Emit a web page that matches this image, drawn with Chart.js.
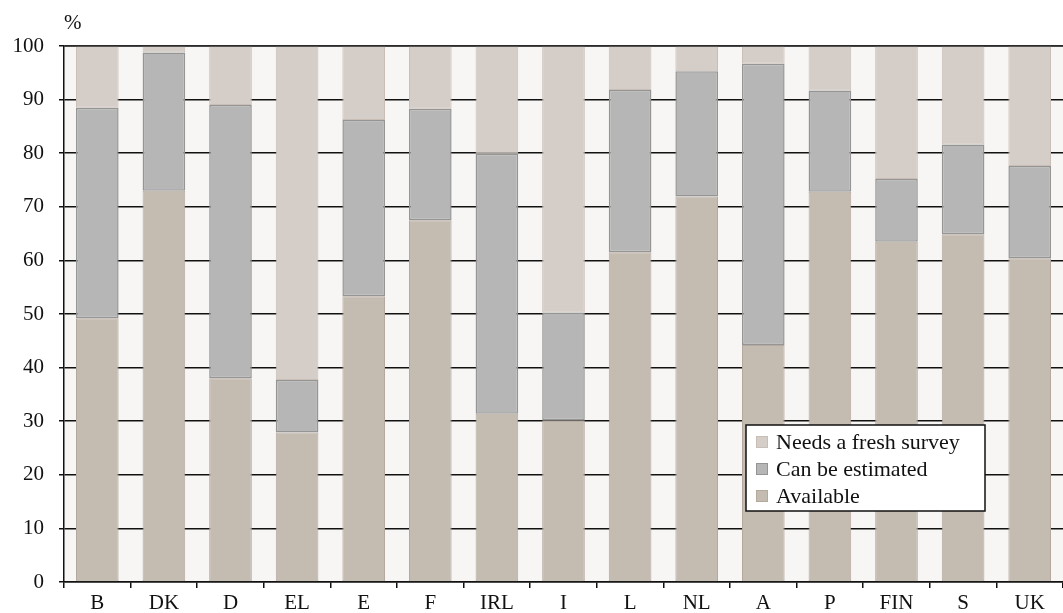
<!DOCTYPE html>
<html>
<head>
<meta charset="utf-8">
<script src="https://cdn.jsdelivr.net/npm/chart.js@4/dist/chart.umd.min.js"></script>
<style>
  body { margin: 0; background: #ffffff; }
  #wrapper { width: 1063px; height: 613px; position: relative; }
</style>
</head>
<body>
<div id="wrapper"><canvas id="canvasSurvey"></canvas></div>
<script>
// Laender
var laender = ["B", "DK", "D", "EL", "E", "F", "IRL", "I", "L", "NL", "A", "P", "FIN", "S", "UK"];

// Anteile in %
var available = [49.2, 73.0, 38.0, 27.9, 53.3, 67.5, 31.4, 30.2, 61.5, 71.9, 44.2, 72.8, 63.5, 64.9, 60.4];
var canBeEstimated = [39.3, 25.8, 51.0, 9.8, 32.9, 20.8, 48.5, 20.1, 30.3, 23.4, 52.5, 18.9, 11.7, 16.7, 17.2];
var needsFreshSurvey = [11.5, 1.2, 11.0, 62.3, 13.8, 11.7, 20.1, 49.7, 8.2, 4.7, 3.3, 8.3, 24.8, 18.4, 22.4];

var yTicks = [0, 10, 20, 30, 40, 50, 60, 70, 80, 90, 100];

var schrift = "'Liberation Serif', 'DejaVu Serif', serif";

// Hintergrund der Zeichenflaeche, Linie bei 100, Einheit und Legende
var hintergrundPlugin = {
  id: "hintergrund",
  beforeDraw: function (chart) {
    var ctx = chart.ctx;
    var a = chart.chartArea;
    ctx.save();
    ctx.fillStyle = "#f7f6f4";
    ctx.fillRect(a.left, a.top, a.right - a.left, a.bottom - a.top);
    ctx.restore();
  },
  afterDatasetsDraw: function (chart) {
    // obere Linie bei 100 liegt ueber den Balken
    var ctx = chart.ctx;
    var a = chart.chartArea;
    var y = chart.scales.y.getPixelForValue(100);
    ctx.save();
    ctx.strokeStyle = "#333333";
    ctx.lineWidth = 1.5;
    ctx.beginPath();
    ctx.moveTo(a.left, y);
    ctx.lineTo(a.right, y);
    ctx.stroke();
    ctx.restore();
  },
  afterDraw: function (chart) {
    var ctx = chart.ctx;
    var a = chart.chartArea;

    // Einheit ueber der y-Achse
    ctx.save();
    ctx.fillStyle = "#111111";
    ctx.font = "21px " + schrift;
    ctx.textAlign = "left";
    ctx.textBaseline = "alphabetic";
    ctx.fillText("%", a.left, 29);

    // Legende im Diagramm, unten rechts
    var links = a.right - 317;
    var oben = a.top + 379;
    var breite = 239;
    var hoehe = 86;
    ctx.fillStyle = "#ffffff";
    ctx.fillRect(links, oben, breite, hoehe);
    ctx.strokeStyle = "#111111";
    ctx.lineWidth = 1.5;
    ctx.strokeRect(links, oben, breite, hoehe);

    var datasets = chart.data.datasets.slice().reverse();
    datasets.forEach(function (ds, i) {
      var mitte = oben + 17 + i * 27;
      ctx.fillStyle = ds.backgroundColor;
      ctx.fillRect(links + 10, mitte - 6, 12, 12);
      ctx.strokeStyle = ds.borderColor;
      ctx.lineWidth = 1;
      ctx.strokeRect(links + 10.5, mitte - 5.5, 11, 11);
      ctx.fillStyle = "#111111";
      ctx.font = "22px " + schrift;
      ctx.textBaseline = "middle";
      ctx.fillText(ds.label, links + 30, mitte + 1);
    });
    ctx.restore();
  }
};

function erstelleDiagramm() {
  var canvas = document.getElementById("canvasSurvey").getContext("2d");
  window.chartSurvey = new Chart(canvas, {
    type: "bar",
    data: {
      labels: laender,
      datasets: [
        {
          label: "Available",
          data: available,
          backgroundColor: "#c4bbb1",
          borderColor: "#b3a99f",
          borderWidth: 1,
          borderSkipped: false,
        },
        {
          label: "Can be estimated",
          data: canBeEstimated,
          backgroundColor: "#b6b6b6",
          borderColor: "#959595",
          borderWidth: 1.5,
          borderSkipped: false,
        },
        {
          label: "Needs a fresh survey",
          data: needsFreshSurvey,
          backgroundColor: "#d5cdc7",
          borderColor: "#c8beb6",
          borderWidth: 1,
          borderSkipped: false,
        },
      ],
    },
    options: {
      responsive: true,
      maintainAspectRatio: false,
      animation: false,
      layout: {
        padding: { top: 46, right: 0, bottom: 0, left: 0 },
      },
      datasets: {
        bar: {
          categoryPercentage: 1,
          barPercentage: 0.64,
        },
      },
      plugins: {
        legend: { display: false },
        tooltip: { enabled: false },
      },
      scales: {
        x: {
          stacked: true,
          afterFit: function (scale) {
            scale.height = 31;
          },
          border: { color: "#111111", width: 1.5 },
          grid: {
            offset: true,
            drawOnChartArea: false,
            drawTicks: true,
            tickLength: 6,
            color: "#111111",
            lineWidth: 1.5,
          },
          ticks: {
            color: "#111111",
            padding: 3,
            maxRotation: 0,
            font: { family: schrift, size: 21 },
          },
        },
        y: {
          stacked: true,
          min: 0,
          max: 100,
          afterFit: function (scale) {
            scale.width = 64;
          },
          afterBuildTicks: function (scale) {
            scale.ticks = yTicks.map(function (v) {
              return { value: v };
            });
          },
          border: { color: "#111111", width: 1.5 },
          grid: {
            color: "#111111",
            lineWidth: 1.5,
            drawTicks: true,
            tickLength: 5,
          },
          ticks: {
            color: "#111111",
            padding: 15,
            font: { family: schrift, size: 21 },
          },
        },
      },
    },
    plugins: [hintergrundPlugin],
  });
}

erstelleDiagramm();
</script>
</body>
</html>
